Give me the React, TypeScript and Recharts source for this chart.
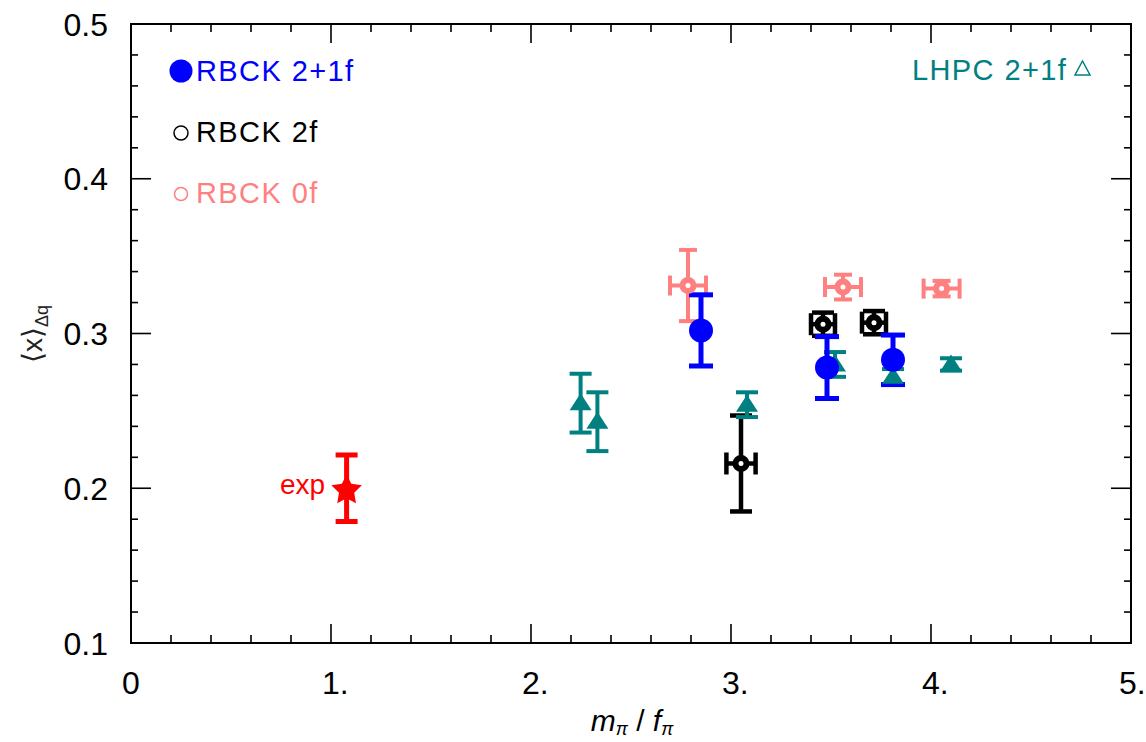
import React from "react"
import {
  ScatterChart,
  Scatter,
  XAxis,
  YAxis,
  ErrorBar,
  ReferenceArea
} from "recharts"

// RBCK 2+1 flavour
const rbck21X = [2.85, 3.48, 3.81]
const rbck21Y = [0.302, 0.278, 0.283]
const rbck21Err = [0.023, 0.020, 0.016]

// RBCK 2 flavour
const rbck2X = [3.46, 3.715, 3.05]
const rbck2Y = [0.306, 0.307, 0.216]
const rbck2ErrY = [0.0075, 0.0075, 0.031]
const rbck2ErrX = [0.06, 0.06, 0.073]

// RBCK quenched
const rbck0X = [2.785, 3.56, 4.053]
const rbck0Y = [0.331, 0.330, 0.329]
const rbck0ErrY = [0.023, 0.008, 0.005]
const rbck0ErrX = [0.09, 0.09, 0.09]

// LHPC 2+1 flavour
const lhpcX = [2.248, 2.332, 3.08, 3.52, 3.81, 4.10]
const lhpcY = [0.255, 0.243, 0.254, 0.280, 0.272, 0.280]
const lhpcErr = [0.019, 0.019, 0.008, 0.008, 0.005, 0.004]

// experiment
const expX = [1.078]
const expY = [0.200]
const expErr = [0.0215]

const xTicks = [0, 0.2, 0.4, 0.6, 0.8, 1, 1.2, 1.4, 1.6, 1.8, 2, 2.2, 2.4, 2.6, 2.8, 3, 3.2, 3.4, 3.6, 3.8, 4, 4.2, 4.4, 4.6, 4.8, 5]
const xTickLabels = ["0", "1.", "2.", "3.", "4.", "5."]
const yTicks = [0.1, 0.12, 0.14, 0.16, 0.18, 0.2, 0.22, 0.24, 0.26, 0.28, 0.3, 0.32, 0.34, 0.36, 0.38, 0.4, 0.42, 0.44, 0.46, 0.48, 0.5]
const yTickLabels = ["0.1", "0.2", "0.3", "0.4", "0.5"]

const W = 1146
const H = 742
const PLOT_W = 1000
const PLOT_H = 619
const FONT = "'Liberation Sans', Arial, Helvetica, sans-serif"

const BLUE = "#0000ff"
const PINK = "#ff8080"
const TEAL = "#008080"
const RED = "#ff0000"

const rows = (xs: number[], ys: number[], ey: number[], ex?: number[]) =>
  xs.map((x, i) => ({ x, y: ys[i], ey: ey[i], ex: ex ? ex[i] : 0 }))

function XTick(props: any) {
  const { x, y, payload } = props
  const v = payload.value
  const major = Math.abs(v - Math.round(v)) < 1e-6
  const len = major ? 19 : 8
  // the last label sits at the page edge, keep it inside
  const tx = Math.min(x - 9, W - 27)
  return (
    <g>
      <line x1={x} y1={y} x2={x} y2={y - len} stroke="#000" strokeWidth={1.6} />
      <line x1={x} y1={y - PLOT_H} x2={x} y2={y - PLOT_H + len} stroke="#000" strokeWidth={1.6} />
      {major && (
        <text x={tx} y={y + 51} fontSize={32} fontFamily={FONT} fill="#000">
          {xTickLabels[Math.round(v)]}
        </text>
      )}
    </g>
  )
}

function YTick(props: any) {
  const { x, y, payload } = props
  const v = payload.value
  const major = Math.abs(v * 10 - Math.round(v * 10)) < 1e-6
  const len = major ? 20 : 7
  return (
    <g>
      <line x1={x} y1={y} x2={x + len} y2={y} stroke="#000" strokeWidth={1.6} />
      <line x1={x + PLOT_W} y1={y} x2={x + PLOT_W - len} y2={y} stroke="#000" strokeWidth={1.6} />
      {major && (
        <text x={x - 23} y={y + 11.5} fontSize={32} fontFamily={FONT} fill="#000" textAnchor="end">
          {yTickLabels[Math.round(v * 10) - 1]}
        </text>
      )}
    </g>
  )
}

const Dot = (color: string, r: number) => (p: any) =>
  <circle cx={p.cx} cy={p.cy} r={r} fill={color} />

const Ring = (color: string) => (p: any) =>
  <circle cx={p.cx} cy={p.cy} r={5.5} fill="#fff" stroke={color} strokeWidth={6} />

const Tri = (p: any) => {
  const { cx, cy } = p
  return <polygon points={`${cx},${cy - 10} ${cx + 11},${cy + 7} ${cx - 11},${cy + 7}`} fill={TEAL} />
}

const Star = (p: any) => {
  const { cx, cy } = p
  const pts: string[] = []
  for (let i = 0; i < 10; i++) {
    const r = i % 2 === 0 ? 16 : 8
    const a = -Math.PI / 2 + (i * Math.PI) / 5
    pts.push(`${cx + r * Math.cos(a)},${cy + 2 + r * Math.sin(a)}`)
  }
  return <polygon points={pts.join(" ")} fill={RED} />
}

function ExpLabel(props: any) {
  const { x, y } = props
  return (
    <text x={x - 17} y={y + 10} fontSize={28} fontFamily={FONT} fill={RED} textAnchor="end">
      exp
    </text>
  )
}

export default function App() {
  return (
    <div style={{ position: "absolute", left: 0, top: 0, width: W, height: H, background: "#fff" }}>
      <ScatterChart width={W} height={H} margin={{ top: 24, right: 15, bottom: 39, left: 31 }}>
        <XAxis
          dataKey="x"
          type="number"
          domain={[0, 5]}
          ticks={xTicks}
          interval={0}
          tick={XTick}
          tickLine={false}
          axisLine={false}
          tickSize={0}
          tickMargin={0}
          height={60}
        />
        <YAxis
          dataKey="y"
          type="number"
          domain={[0.1, 0.5]}
          ticks={yTicks}
          interval={0}
          tick={YTick}
          tickLine={false}
          axisLine={false}
          tickSize={0}
          tickMargin={0}
          width={100}
        />
        <ReferenceArea x1={0} x2={5} y1={0.1} y2={0.5} fill="none" stroke="#000" strokeWidth={2} fillOpacity={0} />

        <Scatter name="RBCK 0f" data={rows(rbck0X, rbck0Y, rbck0ErrY, rbck0ErrX)} shape={Ring(PINK)} isAnimationActive={false}>
          <ErrorBar dataKey="ey" direction="y" width={9} stroke={PINK} strokeWidth={4} isAnimationActive={false} />
          <ErrorBar dataKey="ex" direction="x" width={10} stroke={PINK} strokeWidth={4} isAnimationActive={false} />
        </Scatter>

        <Scatter name="RBCK 2f" data={rows(rbck2X, rbck2Y, rbck2ErrY, rbck2ErrX)} shape={Ring("#000")} isAnimationActive={false}>
          <ErrorBar dataKey="ey" direction="y" width={11} stroke="#000" strokeWidth={4.5} isAnimationActive={false} />
          <ErrorBar dataKey="ex" direction="x" width={11} stroke="#000" strokeWidth={4.5} isAnimationActive={false} />
        </Scatter>

        <Scatter name="LHPC 2+1f" data={rows(lhpcX, lhpcY, lhpcErr)} shape={Tri} isAnimationActive={false}>
          <ErrorBar dataKey="ey" direction="y" width={11} stroke={TEAL} strokeWidth={4} isAnimationActive={false} />
        </Scatter>

        <Scatter name="RBCK 2+1f" data={rows(rbck21X, rbck21Y, rbck21Err)} shape={Dot(BLUE, 12)} isAnimationActive={false}>
          <ErrorBar dataKey="ey" direction="y" width={12} stroke={BLUE} strokeWidth={5} isAnimationActive={false} />
        </Scatter>

        <Scatter name="exp" data={rows(expX, expY, expErr)} shape={Star} isAnimationActive={false}>
          <ErrorBar dataKey="ey" direction="y" width={11} stroke={RED} strokeWidth={5} isAnimationActive={false} />
        </Scatter>
        <Scatter data={rows(expX, expY, expErr)} shape={() => null} isAnimationActive={false} label={ExpLabel} />
      </ScatterChart>

      <svg width={W} height={H} style={{ position: "absolute", left: 0, top: 0, pointerEvents: "none" }}>
        <g fontFamily={FONT} fontSize={29} letterSpacing={1.4}>
          <circle cx={181} cy={71} r={11.5} fill={BLUE} />
          <text x={196} y={81} fill={BLUE}>RBCK 2+1f</text>
          <circle cx={181} cy={133} r={7} fill="none" stroke="#000" strokeWidth={1.5} />
          <text x={196} y={142} fill="#000">RBCK 2f</text>
          <circle cx={181} cy={194} r={6.5} fill="none" stroke={PINK} strokeWidth={1.5} />
          <text x={196} y={203} fill={PINK}>RBCK 0f</text>
          <text x={912} y={80} fill={TEAL}>LHPC 2+1f</text>
          <polygon points="1082.5,61 1090,75 1075,75" fill="none" stroke={TEAL} strokeWidth={1.5} />
        </g>

        <text
          x={42}
          y={334}
          fontFamily={FONT}
          fontSize={28}
          fill="#222"
          textAnchor="middle"
          transform="rotate(-90 42 334)"
        >
          ⟨x⟩
          <tspan fontSize={18} dy={6}>Δq</tspan>
        </text>

        <text x={632} y={731} fontFamily={FONT} fontSize={30} fill="#000" textAnchor="middle">
          <tspan fontStyle="italic">m</tspan>
          <tspan fontSize={18} dy={4} fontStyle="italic">π</tspan>
          <tspan dy={-4}> / </tspan>
          <tspan fontStyle="italic">f</tspan>
          <tspan fontSize={18} dy={4} fontStyle="italic">π</tspan>
        </text>
      </svg>
    </div>
  )
}
